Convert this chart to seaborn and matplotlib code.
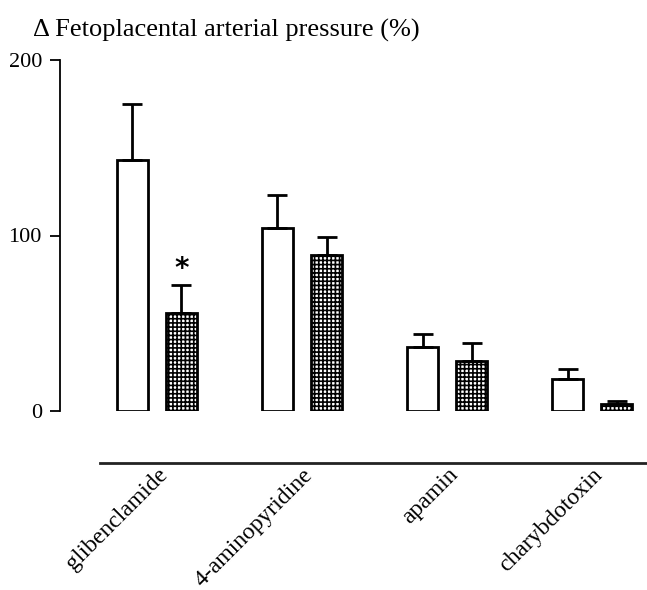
import matplotlib
matplotlib.use("Agg")
import matplotlib.pyplot as plt
import seaborn as sns
import pandas as pd
import numpy as np

categories = ["glibenclamide", "4-aminopyridine", "apamin", "charybdotoxin"]
groups = ["control", "treated"]
control_vals = [143, 104, 36.5, 18]
treated_vals = [56, 89, 28.5, 4]
control_err = [32, 19, 7.5, 6]
treated_err = [16, 10, 10, 1.5]
yticks = [0, 100, 200]
title = "\u0394 Fetoplacental arterial pressure (%)"

sns.set_theme(style="white")
plt.rcParams["font.family"] = ["Liberation Serif", "DejaVu Serif"]
plt.rcParams["hatch.linewidth"] = 1.2
plt.rcParams["hatch.color"] = "black"

rows = []
for i, c in enumerate(categories):
    rows.append({"cat": c, "grp": groups[0], "val": control_vals[i], "err": control_err[i]})
    rows.append({"cat": c, "grp": groups[1], "val": treated_vals[i], "err": treated_err[i]})
df = pd.DataFrame(rows)

fig = plt.figure(figsize=(6.47, 5.90), dpi=100)
ax = fig.add_axes([100/647, (590-411)/590, 547/647, 351/590])

sns.barplot(data=df, x="cat", y="val", hue="grp", order=categories, hue_order=groups,
            palette=["white", "white"], width=0.676, gap=0.367, errorbar=None,
            edgecolor="black", linewidth=2.0, legend=False, ax=ax)

bars = sorted([p for p in ax.patches], key=lambda p: p.get_x())
for k, p in enumerate(bars):
    row = df.iloc[k]
    xc = p.get_x() + p.get_width() / 2
    h = p.get_height()
    if row["grp"] == groups[1]:
        p.set_hatch("++++")
    ax.errorbar([xc], [h], yerr=[[0], [row["err"]]], fmt="none", ecolor="black",
                elinewidth=2.0, capsize=7, capthick=2.0, zorder=1)
    if row["cat"] == "glibenclamide" and row["grp"] == groups[1]:
        ax.text(xc, h + row["err"] + 1, "*", ha="center", va="bottom", fontsize=20,
                fontweight="bold", family="DejaVu Sans", color="black")

ax.set_ylim(0, 200)
ax.set_xlim(-0.393, 3.379)
ax.set_yticks(yticks)
ax.set_yticklabels([str(t) for t in yticks])
ax.set_xlabel("")
ax.set_ylabel("")

for s in ["top", "right"]:
    ax.spines[s].set_visible(False)
ax.spines["left"].set_position(("outward", 28.8))
ax.spines["left"].set_linewidth(1.3)
ax.spines["left"].set_color("black")
ax.spines["bottom"].set_position(("outward", 37.4))
ax.spines["bottom"].set_linewidth(2.0)
ax.spines["bottom"].set_color("#222222")

ax.tick_params(axis="y", which="major", direction="out", length=7, width=1.3,
               color="black", left=True, pad=6, labelcolor="black", labelsize=16)
ax.tick_params(axis="x", which="major", length=0, pad=1, labelsize=17, labelcolor="black")
for lab in ax.get_xticklabels():
    lab.set_rotation(45)
    lab.set_ha("right")
    lab.set_va("top")
    lab.set_rotation_mode("anchor")

fig.text(33/647, 1 - 30/590, title, ha="left", va="center", fontsize=19, color="black")

fig.savefig("out.png", dpi=100)
